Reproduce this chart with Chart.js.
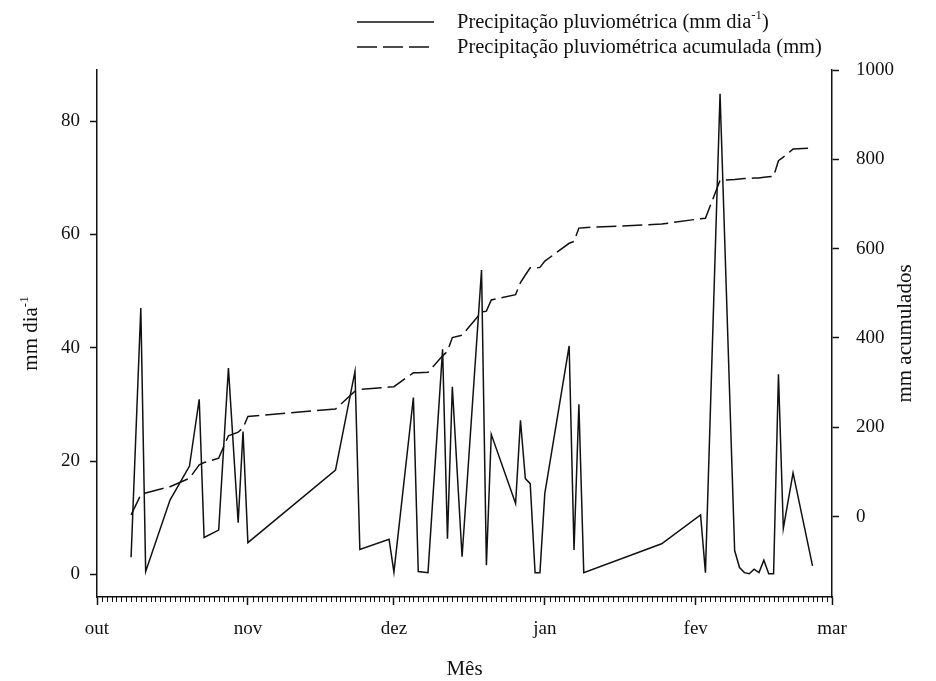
<!DOCTYPE html>
<html>
<head>
<meta charset="utf-8">
<script src="https://cdn.jsdelivr.net/npm/chart.js@4.4.0/dist/chart.umd.min.js"></script>
<style>
    html, body { margin: 0; padding: 0; background: #fff; }
    #wrap { width: 936px; height: 681px; }
</style>
</head>
<body>
<div id="wrap"><canvas id="chuva" width="936" height="681"></canvas></div>
<script>
// dias com leitura (mes-dia), de outubro a fevereiro
var datas = ['10-08', '10-10', '10-11', '10-16', '10-20', '10-22', '10-23', '10-26', '10-28', '10-30',
    '10-31', '11-01', '11-19', '11-23', '11-24', '11-30', '12-01', '12-05', '12-06', '12-08',
    '12-11', '12-12', '12-13', '12-15', '12-19', '12-20', '12-21', '12-26', '12-27', '12-28',
    '12-29', '12-30', '12-31', '01-01', '01-06', '01-07', '01-08', '01-09', '01-25', '02-02',
    '02-03', '02-06', '02-09', '02-10', '02-11', '02-12', '02-13', '02-14', '02-15', '02-16',
    '02-17', '02-18', '02-19', '02-21', '02-25'];

// chuva do dia (mm dia-1)
var chuvaDia = [3.0, 47.0, 0.5, 13.1, 19.1, 30.9, 6.5, 7.8, 36.4, 9.1,
    25.2, 5.6, 18.4, 35.8, 4.4, 6.2, 0.4, 31.2, 0.5, 0.3,
    39.7, 6.3, 33.1, 3.1, 53.7, 1.6, 24.7, 12.5, 27.2, 16.9,
    16.0, 0.3, 0.3, 14.3, 40.3, 4.3, 30.0, 0.3, 5.4, 10.5,
    0.3, 84.8, 4.2, 1.2, 0.3, 0.1, 0.9, 0.3, 2.5, 0.1,
    0.1, 35.3, 8.1, 17.9, 1.5];

// chuva acumulada (mm)
var chuvaAcumulada = [4, 49, 53, 67, 86, 116, 121, 131, 181, 189,
    199, 224, 241, 281, 285, 290, 291, 322, 322, 323,
    360, 370, 401, 406, 458, 460, 485, 497, 524, 541,
    557, 557, 558, 572, 612, 616, 646, 647, 655, 667,
    668, 753, 755, 756, 757, 757, 758, 758, 760, 761,
    762, 797, 805, 823, 825];

// eixo x em dias desde 1 de outubro
var mesesDias = [0, 31, 61, 92, 123, 151];
var mesesNomes = ['out', 'nov', 'dez', 'jan', 'fev', 'mar'];
var ticksDia = [0, 20, 40, 60, 80];
var ticksAcumulada = [0, 200, 400, 600, 800, 1000];

var fonte = "'Liberation Serif', 'Times New Roman', serif";
var preto = '#111';

function diaDaSafra(md) {
    var m = parseInt(md.split('-')[0], 10);
    var d = parseInt(md.split('-')[1], 10);
    var ano = m >= 10 ? 2000 : 2001;
    return Math.round((Date.UTC(ano, m - 1, d) - Date.UTC(2000, 9, 1)) / 86400000);
}

function pontos(valores) {
    var lista = [];
    for (var i = 0; i < datas.length; i++) {
        lista.push({ x: diaDaSafra(datas[i]), y: valores[i] });
    }
    return lista;
}

// escreve texto com trechos sobrescritos marcados entre ^...^
function larguraSup(ctx, texto, tam) {
    var partes = texto.split('^');
    var w = 0;
    for (var i = 0; i < partes.length; i++) {
        ctx.font = (i % 2 ? tam * 0.62 : tam) + 'px ' + fonte;
        w += ctx.measureText(partes[i]).width;
    }
    return w;
}

function textoSup(ctx, texto, x, y, tam) {
    var partes = texto.split('^');
    ctx.textAlign = 'left';
    ctx.textBaseline = 'alphabetic';
    for (var i = 0; i < partes.length; i++) {
        var sup = i % 2 === 1;
        ctx.font = (sup ? tam * 0.62 : tam) + 'px ' + fonte;
        ctx.fillText(partes[i], x, sup ? y - tam * 0.42 : y);
        x += ctx.measureText(partes[i]).width;
    }
}

var legendaTextos = ['Precipitação pluviométrica (mm dia^-1^)', 'Precipitação pluviométrica acumulada (mm)'];

var extras = {
    id: 'extras',
    afterDraw: function (chart) {
        var ctx = chart.ctx;
        var a = chart.chartArea;
        var sx = chart.scales.x;
        ctx.save();

        // ticks menores, um por dia
        ctx.strokeStyle = preto;
        ctx.lineWidth = 1;
        ctx.beginPath();
        for (var d = 0; d <= 151; d++) {
            if (mesesDias.indexOf(d) >= 0) continue;
            var px = Math.round(sx.getPixelForValue(d)) + 0.5;
            ctx.moveTo(px, a.bottom);
            ctx.lineTo(px, a.bottom + 5);
        }
        ctx.stroke();

        ctx.fillStyle = preto;

        // legenda
        chart.data.datasets.forEach(function (ds, i) {
            var y = 22 + i * 25;
            ctx.strokeStyle = preto;
            ctx.lineWidth = ds.borderWidth;
            ctx.setLineDash(ds.borderDash || []);
            ctx.beginPath();
            ctx.moveTo(357, y);
            ctx.lineTo(434, y);
            ctx.stroke();
            ctx.setLineDash([]);
            textoSup(ctx, legendaTextos[i], 457, y + 6, 20.5);
        });

        // titulo eixo esquerdo
        var t1 = 'mm dia^-1^';
        ctx.save();
        ctx.translate(37, (a.top + a.bottom) / 2);
        ctx.rotate(-Math.PI / 2);
        textoSup(ctx, t1, -larguraSup(ctx, t1, 21) / 2, 0, 21);
        ctx.restore();

        // titulo eixo direito
        var t2 = 'mm acumulados';
        ctx.save();
        ctx.translate(911, (a.top + a.bottom) / 2);
        ctx.rotate(-Math.PI / 2);
        textoSup(ctx, t2, -larguraSup(ctx, t2, 21) / 2, 0, 21);
        ctx.restore();

        // titulo eixo x
        var t3 = 'Mês';
        textoSup(ctx, t3, (a.left + a.right) / 2 - larguraSup(ctx, t3, 21) / 2, 675, 21);

        ctx.restore();
    }
};

function eixoY(pos, min, max, ticks, largura, pad) {
    return {
        type: 'linear',
        position: pos,
        min: min,
        max: max,
        afterBuildTicks: function (s) {
            s.ticks = ticks.map(function (v) { return { value: v }; });
        },
        afterFit: function (s) { s.width = largura; },
        ticks: {
            font: { family: fonte, size: 19 },
            color: preto,
            padding: pad,
            callback: function (v) { return String(v); }
        },
        grid: { drawOnChartArea: false, tickLength: 7, tickColor: preto, tickWidth: 1.5 },
        border: { color: preto, width: 1.5 }
    };
}

var ctxC = document.getElementById('chuva').getContext('2d');

var grafico = new Chart(ctxC, {
    type: 'line',
    data: {
        datasets: [{
            label: 'Precipitação pluviométrica (mm dia-1)',
            data: pontos(chuvaDia),
            yAxisID: 'y',
            borderColor: preto,
            borderWidth: 1.5,
            pointRadius: 0,
            tension: 0,
            fill: false
        }, {
            label: 'Precipitação pluviométrica acumulada (mm)',
            data: pontos(chuvaAcumulada),
            yAxisID: 'y2',
            borderColor: preto,
            borderWidth: 1.5,
            borderDash: [20, 6],
            pointRadius: 0,
            tension: 0,
            fill: false
        }]
    },
    options: {
        responsive: false,
        animation: false,
        layout: { padding: { top: 70, left: 0, right: 0, bottom: 0 } },
        plugins: {
            legend: { display: false },
            tooltip: { enabled: false }
        },
        scales: {
            x: {
                type: 'linear',
                min: 0,
                max: 151,
                afterBuildTicks: function (s) {
                    s.ticks = mesesDias.map(function (v) { return { value: v }; });
                },
                afterFit: function (s) { s.height = 84; },
                ticks: {
                    autoSkip: false,
                    maxRotation: 0,
                    padding: 13,
                    font: { family: fonte, size: 19 },
                    color: preto,
                    callback: function (v) { return mesesNomes[mesesDias.indexOf(v)]; }
                },
                grid: { drawOnChartArea: false, tickLength: 8, tickColor: preto, tickWidth: 1.5 },
                border: { color: preto, width: 1.5 }
            },
            y: eixoY('left', -4, 89, ticksDia, 97, 10),
            y2: eixoY('right', -180, 1000, ticksAcumulada, 104, 17)
        }
    },
    plugins: [extras]
});
</script>
</body>
</html>
